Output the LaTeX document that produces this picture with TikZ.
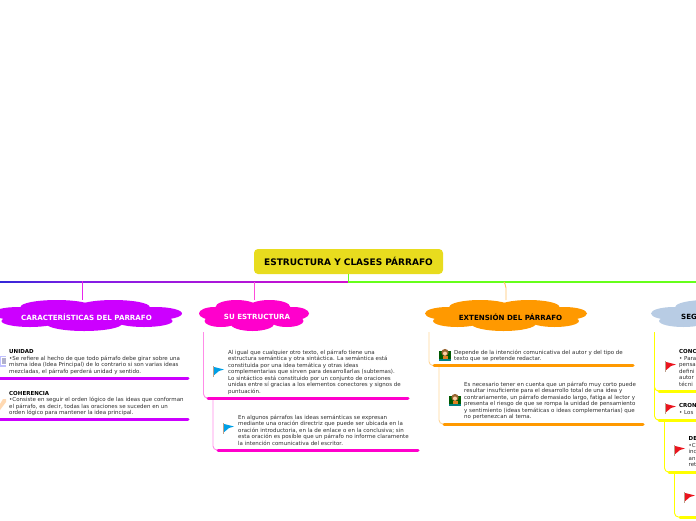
\documentclass[tikz,border=0pt]{standalone}
\usepackage{fontspec}
\setmainfont{DejaVu Sans}
\usepackage{xcolor}
\definecolor{rootfill}{RGB}{232,220,30}
\definecolor{purp}{RGB}{204,0,255}
\definecolor{pinkm}{RGB}{255,0,204}
\definecolor{orng}{RGB}{255,153,0}
\definecolor{paleblue}{RGB}{184,204,228}
\definecolor{lemon}{RGB}{255,255,0}
\definecolor{limeg}{RGB}{102,255,26}
\definecolor{bodyc}{RGB}{45,45,45}
\definecolor{flagblue}{RGB}{0,160,230}
\definecolor{flagred}{RGB}{235,20,30}
\definecolor{poletan}{RGB}{190,160,140}
\definecolor{busblue}{RGB}{50,40,215}
\definecolor{busviolet}{RGB}{130,30,230}
\definecolor{busmag}{RGB}{210,15,205}
\usetikzlibrary{calc}
\tikzset{
  root/.style={rectangle,rounded corners=4pt,fill=rootfill,text=black,
               font=\fontsize{9}{10}\selectfont\bfseries,
               minimum width=189pt,minimum height=25pt,inner sep=0pt},
  cloudtext/.style={font=\fontsize{7.1}{8}\selectfont\bfseries,
                    minimum height=31pt,inner sep=0pt},
  body/.style={anchor=north west,inner sep=0pt,align=left,text=bodyc,
               font=\fontsize{5.5}{6.55}\selectfont},
  rulebar/.style={line width=3pt,line cap=round},
  stem/.style={line width=.9pt,rounded corners=2pt},
  branch/.style={line width=.9pt,rounded corners=4pt},
}
%% lobes of a cloud, half width #3
\newcommand{\blobcloud}[4]{
  \begin{scope}[shift={(#1,#2)},fill=#4]
    \foreach \lx/\ly/\rx/\ry in {-.32/-8.5/.38/7,.28/-8.5/.38/7,-.72/-2/.28/6.5,.72/-2/.28/6.5,
        -.6/5.5/.3/6,.6/5.5/.3/6,-.03/8/.4/7.5,0/0/.7/10}
      \fill (\lx*#3,\ly) ellipse [x radius=\rx*#3,y radius=\ry];
  \end{scope}
}
\newcommand{\flagmark}[3]{
  \fill[poletan] (#1,#2) rectangle ++(1.2,11);
  \fill[#3] (#1+1.2,#2+1) -- (#1+11,#2+3.5) -- (#1+6,#2+5) -- (#1+1.2,#2+9) -- cycle;
}
\newcommand{\teachermark}[2]{
  \fill[green!35!black] (#1,#2+2) rectangle ++(12,9);
  \fill[teal] (#1,#2+9.5) rectangle ++(12,2.5);
  \fill[brown!80!black] (#1+6,#2+3.5) circle (3.6);
  \fill[orange!35!white] (#1+6,#2+4.5) circle (2);
  \fill[brown!50!orange] (#1+3.5,#2+7) rectangle ++(5,3);
}
\begin{document}
\begin{tikzpicture}[x=1pt,y=-1pt]
  \useasboundingbox (0,0) rectangle (696,520);

  %% bus
  \coordinate (busL) at (0,281.2);
  \coordinate (busA) at (82,282.8);
  \coordinate (busM) at (349,282.8);
  \coordinate (busR) at (696,282.8);
  \shade[left color=busblue,right color=busviolet] (busL) rectangle (busA);
  \shade[left color=busviolet,right color=busmag] (busL -| busA) rectangle (busM);
  \fill[limeg] (349,281.2) rectangle (busR);

  \node[root](T) at (348.5,261.5) {ESTRUCTURA Y CLASES PÁRRAFO};
  \draw[limeg,line width=1.4pt] (T.south) -- (T.south |- busM);

  %% clouds
  \blobcloud{87}{315.5}{95}{purp}
  \blobcloud{254}{315.5}{55}{pinkm}
  \blobcloud{506}{315.5}{81}{orng}
  \blobcloud{732}{315.5}{81}{paleblue}
  \node[cloudtext,text=white](A) at (86.5,317) {CARACTERÍSTICAS DEL PARRAFO};
  \node[cloudtext,text=white](B) at (257,317) {SU ESTRUCTURA};
  \node[cloudtext,text=black](C) at (510.5,317) {EXTENSIÓN DEL PÁRRAFO};
  \node[cloudtext,text=black,anchor=west](D) at (681,317) {SEG};

  \coordinate (Astem) at (82,300);
  \draw[stem,purp!55!pinkm!85!white] (Astem) -- (Astem |- busL);
  \draw[stem,pinkm!70!white] (254,300) -- (254,282);
  \draw[stem,orng!60!white] (506,300) -- (506,286) -- (504,282);

  %% first column
  \fill[blue!25!white] (0,356) rectangle (6,367);
  \fill[white] (1,357) rectangle (6,365);
  \fill[blue!20!gray!50!white] (2,358) rectangle (6,364);
  \fill[orange!30!white] (0,410) -- (6,402) -- (6,399) -- (3,399) -- (0,404) -- cycle;
  \node[body](a1) at (9,349.5) {\textbf{\textcolor{black}{UNIDAD}}\\•Se refiere al hecho de que todo párrafo debe girar sobre una\\misma idea (Idea Principal) de lo contrario si son varias ideas\\mezcladas, el párrafo perderá unidad y sentido.};
  \node[body](a2) at (9,390.8) {\textbf{\textcolor{black}{COHERENCIA}}\\•Consiste en seguir el orden lógico de las ideas que conforman\\el párrafo, es decir, todas las oraciones se suceden en un\\orden lógico para mantener la idea principal.};
  \draw[rulebar,purp] (0,378) -- (188,378);
  \draw[rulebar,purp] (0,419.5) -- (188,419.5);

  %% second column
  \coordinate (b0) at (203.5,332);
  \coordinate (b1) at (208,398);
  \coordinate (b2) at (213,398);
  \coordinate (b3) at (218,450);
  \draw[branch,pinkm!45!white] (b0) |- (b1);
  \draw[branch,pinkm!45!white] (b2) |- (b3);
  \draw[rulebar,pinkm] (b1) -- ++(200,0);
  \draw[rulebar,pinkm] (b3) -- ++(200,0);
  \flagmark{213}{366}{flagblue}
  \flagmark{223}{423}{flagblue}
  \node[body](b11) at (228,349.5) {Al igual que cualquier otro texto, el párrafo tiene una\\estructura semántica y otra sintáctica. La semántica está\\constituida por una idea temática y otras ideas\\complementarias que sirven para desarrollarlas (subtemas).\\Lo sintáctico está constituido por un conjunto de oraciones\\unidas entre sí gracias a los elementos conectores y signos de\\puntuación.};
  \node[body](b12) at (238,414.5) {En algunos párrafos las ideas semánticas se expresan\\mediante una oración directriz que puede ser ubicada en la\\oración introductoria, en la de enlace o en la conclusiva; sin\\esta oración es posible que un párrafo no informe claramente\\la intención comunicativa del escritor.};

  %% third column
  \coordinate (c0) at (429,332);
  \coordinate (c1) at (434,365.5);
  \coordinate (c2) at (439,365.5);
  \coordinate (c3) at (444,424);
  \draw[branch,orng!40!white] (c0) |- (c1);
  \draw[branch,orng!40!white] (c2) |- (c3);
  \draw[rulebar,orng] (c1) -- ++(199,0);
  \draw[rulebar,orng] (c3) -- ++(199,0);
  \teachermark{439}{349}
  \teachermark{449}{394}
  \node[body](c11) at (454,349.5) {Depende de la intención comunicativa del autor y del tipo de\\texto que se pretende redactar.};
  \node[body](c12) at (464,381.5) {Es necesario tener en cuenta que un párrafo muy corto puede\\resultar insuficiente para el desarrollo total de una idea y\\contrariamente, un párrafo demasiado largo, fatiga al lector y\\presenta el riesgo de que se rompa la unidad de pensamiento\\y sentimiento (ideas temáticas o ideas complementarias) que\\no pertenezcan al tema.};

  %% fourth column
  \coordinate (d0) at (654.5,332);
  \coordinate (d1) at (659,391);
  \coordinate (d2) at (659,420);
  \coordinate (d3) at (664.5,420);
  \coordinate (d4) at (669,472);
  \coordinate (d5) at (674.5,472);
  \coordinate (d6) at (680,517);
  \draw[branch,lemon] (d0) |- (d1);
  \draw[branch,lemon] (d0) |- (d2);
  \draw[branch,lemon] (d3) |- (d4);
  \draw[branch,lemon] (d5) |- (d6);
  \draw[rulebar,lemon] (d1) -- ++(40,0);
  \draw[rulebar,lemon] (d2) -- ++(40,0);
  \draw[rulebar,lemon] (d4) -- ++(30,0);
  \draw[rulebar,lemon] (d6) -- ++(20,0);
  \flagmark{665}{361}{flagred}
  \flagmark{665}{403}{flagred}
  \flagmark{674}{445}{flagred}
  \flagmark{684}{492}{flagred}
  \node[body](d11) at (679,349.5) {\textbf{\textcolor{black}{CONC}}\\• Para\\pensa\\defini\\autor\\técni};
  \node[body](d12) at (679,403.5) {\textbf{\textcolor{black}{CRON}}\\• Los};
  \node[body](d13) at (688.5,436.5) {\textbf{\textcolor{black}{DE}}\\•C\\inc\\an\\ret};
\end{tikzpicture}
\end{document}
